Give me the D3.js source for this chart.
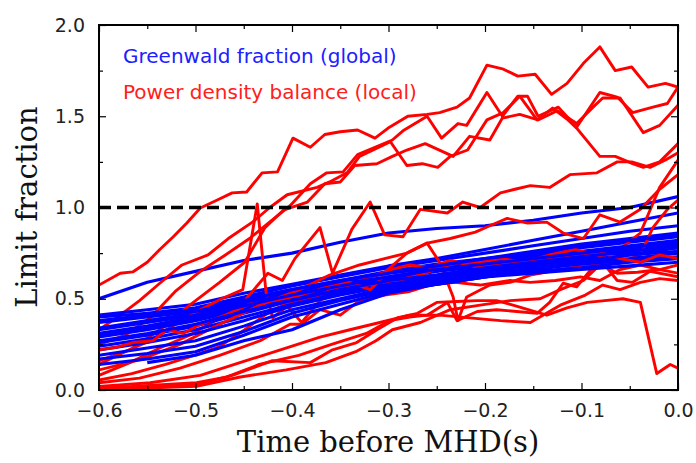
<!DOCTYPE html>
<html><head><meta charset="utf-8">
<script src="https://cdn.jsdelivr.net/npm/d3@7"></script>
<style>body{margin:0;background:#fff}</style>
</head><body><svg id="c" width="696" height="463"></svg>
<script>
// ---------- data ----------
const xTickValues = [-0.6, -0.5, -0.4, -0.3, -0.2, -0.1, 0.0];
const xMinorTicks = [-0.55, -0.45, -0.35, -0.25, -0.15, -0.05];
const yTickValues = [0.0, 0.5, 1.0, 1.5, 2.0];
const yMinorTicks = [0.25, 0.75, 1.25, 1.75];
const limitLevel = 1.0;
const legendLabels = ["Greenwald fraction (global)", "Power density balance (local)"];
const xLabel = "Time before MHD(s)";
const yLabel = "Limit fraction";

// Greenwald fraction: sampled every 0.05 s from -0.6 to 0
const blueTimes = [-0.6,-0.55,-0.5,-0.45,-0.4,-0.35,-0.3,-0.25,-0.2,-0.15,-0.1,-0.05,0.0];
const blue1  = [0.50,0.59,0.65,0.71,0.75,0.81,0.86,0.885,0.90,0.93,0.97,1.00,1.06];
const blue2  = [0.41,0.44,0.47,0.53,0.58,0.63,0.68,0.72,0.77,0.82,0.87,0.92,0.97];
const blue3  = [0.40,0.42,0.45,0.51,0.57,0.62,0.67,0.71,0.75,0.79,0.83,0.87,0.90];
const blue4  = [0.38,0.41,0.44,0.50,0.55,0.60,0.65,0.69,0.72,0.76,0.80,0.83,0.86];
const blue5  = [0.34,0.38,0.42,0.48,0.54,0.59,0.64,0.67,0.71,0.74,0.78,0.81,0.84];
const blue6  = [0.33,0.37,0.41,0.47,0.53,0.58,0.62,0.66,0.70,0.73,0.76,0.79,0.82];
const blue7  = [0.30,0.34,0.39,0.45,0.51,0.56,0.61,0.65,0.68,0.71,0.74,0.77,0.80];
const blue8  = [0.29,0.33,0.38,0.44,0.50,0.55,0.60,0.63,0.67,0.70,0.73,0.76,0.79];
const blue9  = [0.26,0.30,0.35,0.42,0.49,0.54,0.59,0.62,0.66,0.69,0.72,0.75,0.78];
const blue10 = [0.24,0.28,0.33,0.40,0.47,0.53,0.58,0.61,0.65,0.68,0.71,0.74,0.76];
const blue11 = [0.22,0.26,0.31,0.38,0.46,0.52,0.57,0.60,0.64,0.67,0.70,0.72,0.75];
const blue12 = [0.19,0.23,0.27,0.35,0.44,0.50,0.56,0.59,0.63,0.66,0.69,0.71,0.73];
const blue13 = [0.17,0.20,0.24,0.32,0.42,0.49,0.55,0.58,0.62,0.65,0.67,0.70,0.72];
const blue14 = [0.14,0.17,0.21,0.30,0.40,0.47,0.54,0.58,0.62,0.64,0.66,0.68,0.70];
const blue15 = [null,0.15,0.19,0.27,0.33,0.44,0.53,0.58,0.62,0.66,0.70,0.74,0.78];
const blue16 = [0.37,0.40,0.43,0.49,0.55,0.60,0.64,0.68,0.72,0.75,0.79,0.82,0.85];
const blue17 = [0.31,0.35,0.40,0.46,0.52,0.57,0.62,0.66,0.69,0.72,0.75,0.78,0.81];
const blue18 = [0.27,0.31,0.36,0.43,0.49,0.55,0.60,0.63,0.67,0.70,0.73,0.76,0.79];

// Power density balance: [time, value]
const red1 = [[-0.600,0.575],[-0.578,0.64],[-0.565,0.647],[-0.550,0.70],[-0.537,0.77],[-0.523,0.84],[-0.509,0.915],[-0.495,0.997],[-0.478,1.04],[-0.462,1.08],[-0.447,1.085],[-0.431,1.19],[-0.415,1.195],[-0.399,1.38],[-0.381,1.33],[-0.366,1.40],[-0.350,1.415],[-0.332,1.425],[-0.314,1.38],[-0.299,1.44],[-0.280,1.50],[-0.260,1.51],[-0.247,1.52],[-0.229,1.55],[-0.216,1.60],[-0.198,1.78],[-0.182,1.76],[-0.166,1.72],[-0.148,1.73],[-0.131,1.62],[-0.115,1.68],[-0.098,1.79],[-0.081,1.88],[-0.065,1.75],[-0.048,1.77],[-0.031,1.66],[-0.013,1.68],[0,1.66]];
const red2 = [[-0.600,0.33],[-0.578,0.41],[-0.558,0.49],[-0.537,0.585],[-0.514,0.685],[-0.487,0.74],[-0.466,0.83],[-0.441,0.92],[-0.423,1.0],[-0.405,1.07],[-0.374,1.11],[-0.361,1.14],[-0.343,1.19],[-0.330,1.28],[-0.298,1.36],[-0.281,1.23],[-0.265,1.24],[-0.249,1.22],[-0.236,1.28],[-0.218,1.315],[-0.198,1.48],[-0.181,1.52],[-0.164,1.61],[-0.146,1.48],[-0.130,1.545],[-0.114,1.48],[-0.105,1.435],[-0.081,1.28],[-0.065,1.28],[-0.047,1.24],[-0.036,1.22],[-0.019,1.25],[0,1.35]];
const red3 = [[-0.600,0.25],[-0.573,0.30],[-0.547,0.395],[-0.521,0.54],[-0.495,0.65],[-0.469,0.74],[-0.444,0.83],[-0.421,0.93],[-0.402,1.01],[-0.381,1.13],[-0.364,1.19],[-0.347,1.195],[-0.332,1.29],[-0.314,1.33],[-0.296,1.37],[-0.285,1.42],[-0.260,1.50],[-0.245,1.38],[-0.228,1.46],[-0.219,1.45],[-0.198,1.63],[-0.182,1.50],[-0.166,1.61],[-0.156,1.61],[-0.145,1.50],[-0.124,1.55],[-0.105,1.44],[-0.081,1.63],[-0.063,1.605],[-0.047,1.52],[-0.026,1.55],[-0.011,1.57],[0,1.66]];
const red4 = [[-0.600,0.16],[-0.568,0.22],[-0.537,0.33],[-0.506,0.465],[-0.475,0.59],[-0.449,0.70],[-0.428,0.89],[-0.409,0.985],[-0.384,1.03],[-0.366,1.13],[-0.350,1.14],[-0.335,1.23],[-0.312,1.24],[-0.296,1.28],[-0.281,1.315],[-0.262,1.35],[-0.233,1.28],[-0.216,1.39],[-0.195,1.37],[-0.182,1.49],[-0.164,1.51],[-0.145,1.48],[-0.125,1.53],[-0.105,1.46],[-0.088,1.55],[-0.078,1.60],[-0.060,1.60],[-0.036,1.41],[-0.019,1.45],[0,1.56]];
const red5 = [[-0.600,0.08],[-0.568,0.15],[-0.537,0.23],[-0.506,0.30],[-0.475,0.395],[-0.449,0.49],[-0.425,0.64],[-0.410,0.60],[-0.397,0.72],[-0.371,0.89],[-0.358,0.64],[-0.338,0.88],[-0.319,1.03],[-0.304,0.85],[-0.285,0.84],[-0.267,0.99],[-0.239,0.97],[-0.223,1.03],[-0.205,1.0],[-0.184,1.08],[-0.169,1.10],[-0.153,1.12],[-0.133,1.11],[-0.112,1.18],[-0.084,1.19],[-0.063,1.25],[-0.048,1.25],[-0.029,1.22],[-0.013,1.26],[0,1.30]];
const red6 = [[-0.600,0.14],[-0.573,0.21],[-0.547,0.27],[-0.521,0.36],[-0.495,0.44],[-0.473,0.50],[-0.451,0.55],[-0.436,1.02],[-0.427,0.54],[-0.420,0.395],[-0.405,0.46],[-0.390,0.37],[-0.371,0.49],[-0.350,0.55],[-0.330,0.60],[-0.304,0.645],[-0.281,0.75],[-0.260,0.805],[-0.247,0.70],[-0.233,0.51],[-0.228,0.38],[-0.219,0.51],[-0.195,0.575],[-0.174,0.59],[-0.153,0.63],[-0.122,0.66],[-0.091,0.685],[-0.070,0.70],[-0.055,0.795],[-0.039,0.86],[-0.019,1.11],[0,1.26]];
const red7 = [[-0.600,0.01],[-0.547,0.016],[-0.501,0.027],[-0.462,0.08],[-0.421,0.16],[-0.381,0.15],[-0.358,0.22],[-0.333,0.26],[-0.312,0.33],[-0.291,0.395],[-0.270,0.42],[-0.250,0.48],[-0.229,0.485],[-0.208,0.49],[-0.188,0.49],[-0.171,0.465],[-0.136,0.41],[-0.115,0.45],[-0.094,0.48],[-0.076,0.49],[-0.057,0.50],[-0.039,0.48],[-0.022,0.09],[-0.008,0.14],[0,0.12]];
const red8 = [[-0.600,0.005],[-0.550,0.01],[-0.499,0.02],[-0.455,0.07],[-0.406,0.11],[-0.365,0.15],[-0.334,0.21],[-0.313,0.27],[-0.296,0.33],[-0.267,0.37],[-0.236,0.44],[-0.205,0.465],[-0.174,0.49],[-0.143,0.50],[-0.122,0.55],[-0.098,0.60],[-0.078,0.70],[-0.063,0.60],[-0.047,0.59],[-0.029,0.65],[0,0.62]];
const red9 = [[-0.600,0.016],[-0.566,0.02],[-0.499,0.04],[-0.468,0.07],[-0.434,0.14],[-0.393,0.19],[-0.359,0.25],[-0.323,0.31],[-0.299,0.38],[-0.278,0.40],[-0.260,0.41],[-0.239,0.48],[-0.229,0.38],[-0.208,0.43],[-0.188,0.44],[-0.167,0.43],[-0.146,0.42],[-0.133,0.48],[-0.119,0.585],[-0.105,0.565],[-0.084,0.70],[-0.063,0.64],[-0.042,0.645],[-0.019,0.66],[0,0.64]];
const red10 = [[-0.600,0.055],[-0.566,0.09],[-0.531,0.14],[-0.507,0.18],[-0.476,0.235],[-0.449,0.33],[-0.423,0.43],[-0.402,0.48],[-0.381,0.50],[-0.358,0.55],[-0.337,0.575],[-0.312,0.565],[-0.291,0.60],[-0.267,0.63],[-0.247,0.67],[-0.226,0.70],[-0.205,0.70],[-0.184,0.72],[-0.159,0.70],[-0.133,0.74],[-0.107,0.77],[-0.084,0.74],[-0.060,0.70],[-0.039,0.74],[-0.026,0.89],[-0.011,0.99],[0,1.04]];
const red11 = [[-0.600,0.11],[-0.558,0.165],[-0.516,0.25],[-0.475,0.36],[-0.433,0.465],[-0.392,0.55],[-0.361,0.63],[-0.330,0.685],[-0.304,0.72],[-0.281,0.75],[-0.260,0.805],[-0.236,0.83],[-0.210,0.865],[-0.195,0.90],[-0.177,0.94],[-0.156,0.915],[-0.136,0.92],[-0.119,0.86],[-0.098,0.83],[-0.081,0.96],[-0.060,0.92],[-0.039,0.99],[-0.019,1.10],[0,1.18]];
const red12 = [[-0.600,0.04],[-0.558,0.065],[-0.516,0.12],[-0.475,0.19],[-0.433,0.27],[-0.402,0.36],[-0.390,0.36],[-0.371,0.44],[-0.350,0.41],[-0.330,0.49],[-0.304,0.52],[-0.278,0.54],[-0.257,0.575],[-0.231,0.59],[-0.205,0.575],[-0.174,0.60],[-0.153,0.59],[-0.127,0.60],[-0.101,0.62],[-0.081,0.60],[-0.060,0.66],[-0.039,0.685],[-0.019,0.66],[0,0.685]];
const red13 = [[-0.600,0.02],[-0.547,0.04],[-0.495,0.08],[-0.454,0.15],[-0.412,0.22],[-0.371,0.29],[-0.340,0.33],[-0.309,0.37],[-0.278,0.41],[-0.247,0.41],[-0.216,0.395],[-0.184,0.38],[-0.153,0.37],[-0.122,0.465],[-0.096,0.52],[-0.078,0.575],[-0.060,0.55],[-0.039,0.59],[-0.019,0.61],[0,0.60]];
const red14 = [[-0.600,0.22],[-0.581,0.235],[-0.565,0.26],[-0.544,0.27],[-0.530,0.33],[-0.513,0.31],[-0.495,0.36],[-0.469,0.41],[-0.444,0.47],[-0.418,0.49],[-0.392,0.52],[-0.366,0.56],[-0.340,0.59],[-0.319,0.55],[-0.298,0.66],[-0.278,0.685],[-0.257,0.67],[-0.236,0.71],[-0.205,0.67],[-0.174,0.70],[-0.143,0.72],[-0.112,0.74],[-0.081,0.755],[-0.060,0.72],[-0.039,0.70],[-0.019,0.74],[0,0.72]];

const blueSeries = [blue1,blue2,blue3,blue4,blue5,blue6,blue7,blue8,blue9,blue10,blue11,blue12,blue13,blue14,blue15,blue16,blue17,blue18];
const redSeries = [red1,red2,red3,red4,red5,red6,red7,red8,red9,red10,red11,red12,red13,red14];

// ---------- chart ----------
const svg = d3.select("#c");
const L = 99, R = 678, T = 25, B = 390;
const x = d3.scaleLinear().domain([-0.6, 0.0]).range([L, R]);
const y = d3.scaleLinear().domain([0, 2]).range([B, T]);

svg.append("defs").append("clipPath").attr("id","clip")
  .append("rect").attr("x",L).attr("y",T).attr("width",R-L).attr("height",B-T);

const plot = svg.append("g").attr("clip-path","url(#clip)");
const redLine = d3.line().x(d => x(d[0])).y(d => y(d[1]));
const blueLine = d3.line().defined(d => d[1] != null).x(d => x(d[0])).y(d => y(d[1]));

const n = Math.max(redSeries.length, blueSeries.length);
for (let i = 0; i < n; i++) {
  if (redSeries[i]) plot.append("path").datum(redSeries[i]).attr("d", redLine)
      .attr("fill","none").attr("stroke","#ff0000").attr("stroke-width",2.9).attr("stroke-linejoin","round");
  if (blueSeries[i]) plot.append("path").datum(blueTimes.map((t,k)=>[t, blueSeries[i][k]])).attr("d", blueLine)
      .attr("fill","none").attr("stroke","#0000ff").attr("stroke-width",3.1).attr("stroke-linejoin","round");
}

// dashed limit line
plot.append("line").attr("x1",x(-0.6)).attr("x2",x(0)).attr("y1",y(limitLevel)).attr("y2",y(limitLevel))
  .attr("stroke","#000").attr("stroke-width",3.5).attr("stroke-dasharray","12,6");

// axes (ticks inward, mirrored)
const fmt = d3.format(".1f");
const tickLabelStyle = sel => sel.attr("font-family","DejaVu Sans").attr("font-size",19).attr("fill","#222");

const axB = d3.axisBottom(x).tickValues(xTickValues).tickFormat(fmt).tickSizeInner(-7).tickSizeOuter(0).tickPadding(14);
const gB = svg.append("g").attr("transform",`translate(0,${B})`).call(axB);
gB.select(".domain").remove();
gB.selectAll("text").call(tickLabelStyle);
const axBm = d3.axisBottom(x).tickValues(xMinorTicks).tickFormat("").tickSizeInner(-4).tickSizeOuter(0);
svg.append("g").attr("transform",`translate(0,${B})`).call(axBm).select(".domain").remove();

const axT = d3.axisTop(x).tickValues(xTickValues).tickFormat("").tickSizeInner(-7).tickSizeOuter(0);
svg.append("g").attr("transform",`translate(0,${T})`).call(axT).select(".domain").remove();
const axTm = d3.axisTop(x).tickValues(xMinorTicks).tickFormat("").tickSizeInner(-4).tickSizeOuter(0);
svg.append("g").attr("transform",`translate(0,${T})`).call(axTm).select(".domain").remove();

const axL = d3.axisLeft(y).tickValues(yTickValues).tickFormat(fmt).tickSizeInner(-7).tickSizeOuter(0).tickPadding(14);
const gL = svg.append("g").attr("transform",`translate(${L},0)`).call(axL);
gL.select(".domain").remove();
gL.selectAll("text").call(tickLabelStyle);
const axLm = d3.axisLeft(y).tickValues(yMinorTicks).tickFormat("").tickSizeInner(-4).tickSizeOuter(0);
svg.append("g").attr("transform",`translate(${L},0)`).call(axLm).select(".domain").remove();

const axR = d3.axisRight(y).tickValues(yTickValues).tickFormat("").tickSizeInner(-7).tickSizeOuter(0);
svg.append("g").attr("transform",`translate(${R},0)`).call(axR).select(".domain").remove();
const axRm = d3.axisRight(y).tickValues(yMinorTicks).tickFormat("").tickSizeInner(-4).tickSizeOuter(0);
svg.append("g").attr("transform",`translate(${R},0)`).call(axRm).select(".domain").remove();

svg.selectAll(".tick line").attr("stroke","#000").attr("stroke-width",1.2);

// frame
svg.append("rect").attr("x",L).attr("y",T).attr("width",R-L).attr("height",B-T)
  .attr("fill","none").attr("stroke","#000").attr("stroke-width",2);

// legend text
svg.append("text").attr("x",123).attr("y",63).text(legendLabels[0])
  .attr("font-family","DejaVu Sans").attr("font-size",20).attr("fill","#2020ff");
svg.append("text").attr("x",123).attr("y",99).text(legendLabels[1])
  .attr("font-family","DejaVu Sans").attr("font-size",20).attr("fill","#ff2020");

// axis labels
svg.append("text").attr("x",388).attr("y",452).attr("text-anchor","middle").text(xLabel)
  .attr("font-family","DejaVu Serif").attr("font-size",29).attr("fill","#111");
svg.append("text").attr("transform","translate(37,207) rotate(-90)").attr("text-anchor","middle").text(yLabel)
  .attr("font-family","DejaVu Serif").attr("font-size",29).attr("fill","#111");
</script></body></html>
